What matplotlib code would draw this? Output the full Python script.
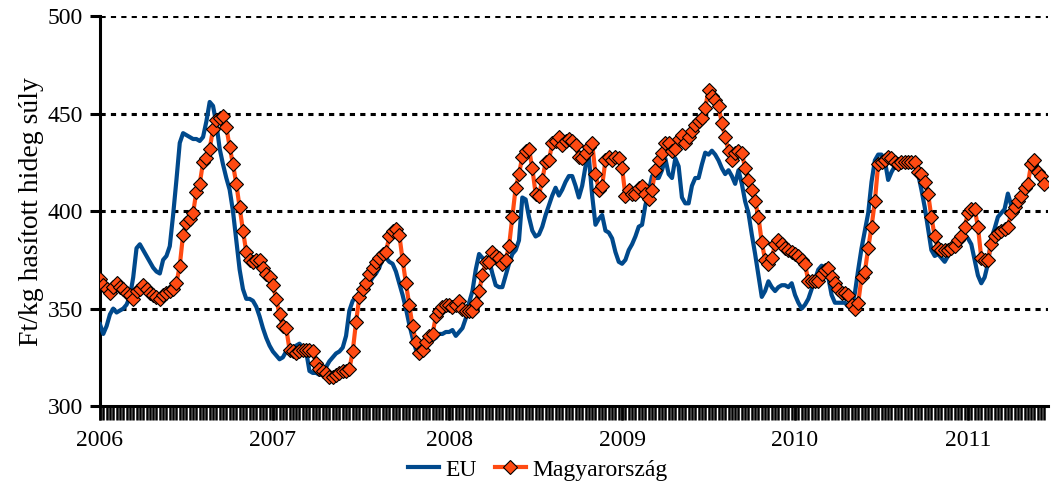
import numpy as np
import matplotlib
matplotlib.use("Agg")
import matplotlib.pyplot as plt

years = ["2006", "2007", "2008", "2009", "2010", "2011"]
year_week_index = [0, 52, 105, 157, 209, 261]

eu = [
    342, 337, 341, 347, 350, 348, 349, 350, 352, 356,
    366, 381, 383, 380, 377, 374, 371, 369, 368, 375,
    377, 382, 398, 416, 435, 440, 439, 438, 437, 437,
    436, 438, 446, 456, 454, 445, 432, 424, 417, 411,
    400, 385, 370, 360, 355, 355, 354, 351, 346, 340,
    335, 331, 328, 326, 324, 325, 328, 330, 330, 331,
    332, 330, 328, 318, 317, 317, 316, 317, 320, 323,
    325, 327, 328, 330, 336, 349, 354, 356, 357, 359,
    361, 363, 366, 368, 371, 376, 376, 374, 373, 369,
    363, 357, 350, 342, 335, 329, 329, 332, 334, 334,
    334, 335, 337, 337, 338, 338, 339, 336, 338, 340,
    345, 353, 359, 370, 378, 376, 375, 375, 368, 362,
    361, 361, 367, 373, 378, 380, 385, 407, 406, 397,
    390, 387, 388, 392, 398, 403, 408, 412, 408, 411,
    415, 418, 418, 413, 407, 413, 423, 428, 408, 393,
    396, 398, 390, 389, 386, 379, 374, 373, 375, 380,
    383, 387, 392, 393, 403, 410, 418, 417, 417, 421,
    427, 419, 417, 427, 423, 407, 404, 404, 413, 417,
    417, 424, 430, 429, 431, 429, 426, 422, 419, 421,
    418, 414, 421, 414, 405, 399, 388, 378, 367, 356,
    359, 364, 361, 359, 361, 362, 362, 361, 363, 357,
    353, 350, 352, 355, 360, 365, 370, 372, 371, 366,
    357, 353, 353, 353, 353, 351, 351, 358, 370, 381,
    390, 399, 415, 426, 429, 429, 426, 416, 420, 423,
    423, 423, 423, 423, 424, 423, 419, 411, 402, 391,
    380, 377, 378, 376, 374, 377, 380, 383, 385, 386,
    387, 386, 383, 375, 367, 363, 366, 373, 386, 391,
    397, 399, 401, 409, 403, 403, 406, 408,
    np.nan, np.nan, np.nan, np.nan, np.nan, np.nan, np.nan,
]

hu = [
    365, 362, 360, 358, 361, 363, 361, 360, 358, 357,
    355, 359, 360, 362, 360, 358, 357, 356, 355, 357,
    358, 359, 360, 363, 372, 388, 394, 396, 399, 410,
    414, 425, 427, 432, 442, 447, 448, 449, 443, 433,
    424, 414, 402, 390, 379, 375, 374, 375, 375, 371,
    368, 366, 362, 355, 347, 341, 340, 329, 328, 327,
    328, 329, 329, 329, 328, 322, 319, 318, 317, 315,
    315, 316, 317, 318, 318, 319, 328, 343, 356, 360,
    363, 368, 371, 374, 376, 378, 379, 387, 390, 391,
    388, 375, 363, 352, 341, 333, 327, 329, 333, 336,
    337, 346, 349, 351, 352, 352, 351, 352, 354, 350,
    349, 349, 349, 353, 359, 367, 374, 374, 379, 377,
    376, 373, 375, 382, 397, 412, 419, 428, 431, 432,
    422, 409, 408, 416, 425, 426, 435, 436, 438, 434,
    436, 437, 436, 434, 428, 427, 430, 433, 435, 419,
    411, 413, 426, 428, 426, 428, 427, 422, 408, 411,
    409, 409, 412, 413, 409, 406, 411, 421, 426, 430,
    435, 435, 431, 432, 437, 439, 435, 438, 441, 444,
    446, 448, 453, 462, 459, 457, 454, 445, 438, 431,
    426, 430, 431, 430, 422, 416, 411, 405, 397, 384,
    375, 373, 376, 383, 385, 383, 381, 380, 379, 378,
    377, 375, 373, 364, 364, 364, 364, 368, 370, 371,
    366, 363, 360, 358, 358, 357, 352, 350, 353, 366,
    369, 381, 392, 405, 424, 425, 426, 428, 427, 425,
    424, 425, 425, 425, 425, 425, 420, 419, 415, 409,
    397, 387, 381, 380, 380, 380, 381, 382, 385, 387,
    392, 399, 401, 401, 392, 376, 375, 375, 383, 387,
    389, 390, 391, 392, 399, 402, 405, 408, 412, 414,
    424, 426, 420, 418, 414,
]

eu_color = "#00498C"
hu_color = "#FF4A12"

plt.rcParams['font.family'] = ['Liberation Serif', 'DejaVu Serif']

fig = plt.figure(figsize=(10.52, 4.91), dpi=100)
ax = fig.add_axes([0.095, 0.173, 0.901, 0.794])

x = np.arange(len(hu))
xe = np.arange(len(eu))

ax.plot(xe, eu, color=eu_color, lw=3.0, solid_joinstyle='round', label="EU", zorder=3)
ax.plot(x, hu, color=hu_color, lw=3.0, marker='D', markersize=6.8,
        markerfacecolor=hu_color, markeredgecolor='black', markeredgewidth=0.8,
        label="Magyarország", zorder=4)

ax.set_xlim(0, 285)
ax.set_ylim(300, 500)
ax.set_yticks([300, 350, 400, 450, 500])
for yv in [350, 400, 450, 500]:
    ax.axhline(yv, color='black', lw=2.2, linestyle=(0, (1.7, 1.7)), zorder=1)

ax.xaxis.remove_overlapping_locs = False
ax.set_xticks(year_week_index)
ax.set_xticklabels(years)
ax.set_xticks(np.arange(0, 285), minor=True)
ax.tick_params(axis='x', which='minor', length=10, width=1.8, direction='out', color='black')
ax.tick_params(axis='x', which='major', length=10, width=1.8, direction='out',
               pad=7, labelsize=17)
ax.tick_params(axis='y', length=7, width=2.2, labelsize=17, pad=5)

for s in ['top', 'right']:
    ax.spines[s].set_visible(False)
for s in ['left', 'bottom']:
    ax.spines[s].set_linewidth(2.2)

ax.set_ylabel("Ft/kg hasított hideg súly", fontsize=20, labelpad=3)

leg = fig.legend(loc='center', bbox_to_anchor=(0.5114, 0.043), ncol=2, frameon=False,
                 fontsize=17, handlelength=1.3, columnspacing=0.75, handletextpad=0.3)

fig.savefig("out.png", dpi=100)
